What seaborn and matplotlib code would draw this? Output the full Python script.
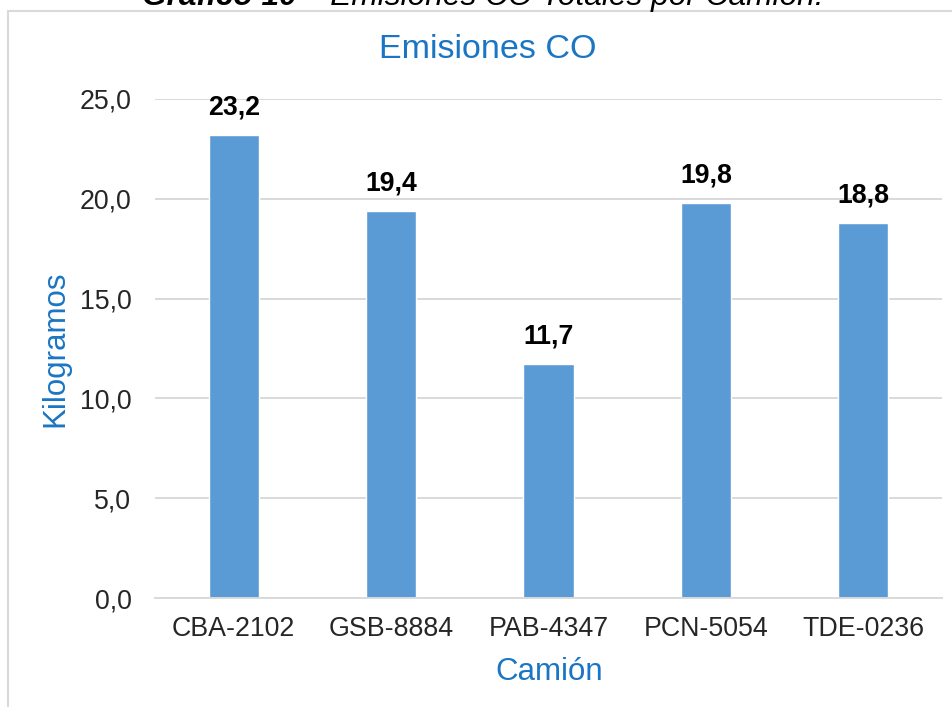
import matplotlib
matplotlib.use("Agg")
import matplotlib.pyplot as plt
from matplotlib.ticker import FuncFormatter, MultipleLocator
from matplotlib.lines import Line2D
import seaborn as sns
import pandas as pd

# Data
camiones = ["CBA-2102", "GSB-8884", "PAB-4347", "PCN-5054", "TDE-0236"]
emisiones_kg = [23.2, 19.4, 11.7, 19.8, 18.8]

caption_bold = "Gráfico 10"
caption_rest = "- Emisiones CO Totales por Camión."
chart_title = "Emisiones CO"
x_label = "Camión"
y_label = "Kilogramos"

df = pd.DataFrame({"Camión": camiones, "Kilogramos": emisiones_kg})

sns.set_theme(style="white")
plt.rcParams["font.family"] = ["Liberation Sans", "DejaVu Sans"]

W, H = 952, 707
fig = plt.figure(figsize=(W / 100, H / 100), dpi=100)
fig.patch.set_facecolor("white")

def fx(px):
    return px / W

def fy(py):
    return 1 - py / H

ax_left, ax_right, ax_top, ax_bottom = 155, 942, 99, 598
ax = fig.add_axes([fx(ax_left), fy(ax_bottom), fx(ax_right - ax_left), (ax_bottom - ax_top) / H])

bar_color = "#5B9BD5"
grid_color = "#D9D9D9"
text_color = "#262626"
blue_text = "#1A75C4"

sns.barplot(data=df, x="Camión", y="Kilogramos", color=bar_color, saturation=1,
            width=0.32, ax=ax, zorder=3)

ax.set_ylim(0, 25)
ax.set_xlim(-0.5, len(camiones) - 0.5)
ax.yaxis.set_major_locator(MultipleLocator(5))
ax.yaxis.set_major_formatter(FuncFormatter(lambda v, p: f"{v:.1f}".replace(".", ",")))
ax.grid(axis="y", color=grid_color, linewidth=1.4, zorder=0)
ax.set_axisbelow(True)
for side in ["top", "right", "left"]:
    ax.spines[side].set_visible(False)
ax.spines["bottom"].set_color(grid_color)
ax.spines["bottom"].set_linewidth(1.4)
ax.spines["bottom"].set_zorder(4)

ax.tick_params(axis="y", length=0, pad=17, labelsize=19.3, labelcolor=text_color)
ax.tick_params(axis="x", length=0, pad=13, labelsize=19.3, labelcolor=text_color)
ax.set_xlabel("")
ax.set_ylabel("")

# Value labels above bars
for i, v in enumerate(emisiones_kg):
    ax.annotate(f"{v:.1f}".replace(".", ","), xy=(i, v), xytext=(0, 10.5),
                textcoords="offset points", ha="center", va="bottom",
                fontsize=19.2, fontweight="bold", color="black", zorder=5)

# Axis titles and chart title
fig.text(fx(549), fy(672), x_label, ha="center", va="center", fontsize=22.5, color=blue_text)
fig.text(fx(55), fy(349), y_label, ha="center", va="center", rotation=90,
         fontsize=22.5, color=blue_text)
fig.text(fx(488), fy(50), chart_title, ha="center", va="center", fontsize=24.5, color=blue_text)

# Caption above the chart frame
fig.text(fx(297), fy(5), caption_bold, ha="right", va="baseline", fontsize=22.8,
         fontweight="bold", fontstyle="italic", color="black")
fig.text(fx(311), fy(5), caption_rest, ha="left", va="baseline", fontsize=22.8,
         fontstyle="italic", color="black")

# Chart frame border
fig.add_artist(Line2D([fx(7.5), fx(7.5)], [fy(11), fy(H + 5)], color=grid_color, linewidth=1.5))
fig.add_artist(Line2D([fx(7.5), fx(W + 5)], [fy(11), fy(11)], color=grid_color, linewidth=1.5))

fig.savefig("out.png", dpi=100, facecolor="white")
